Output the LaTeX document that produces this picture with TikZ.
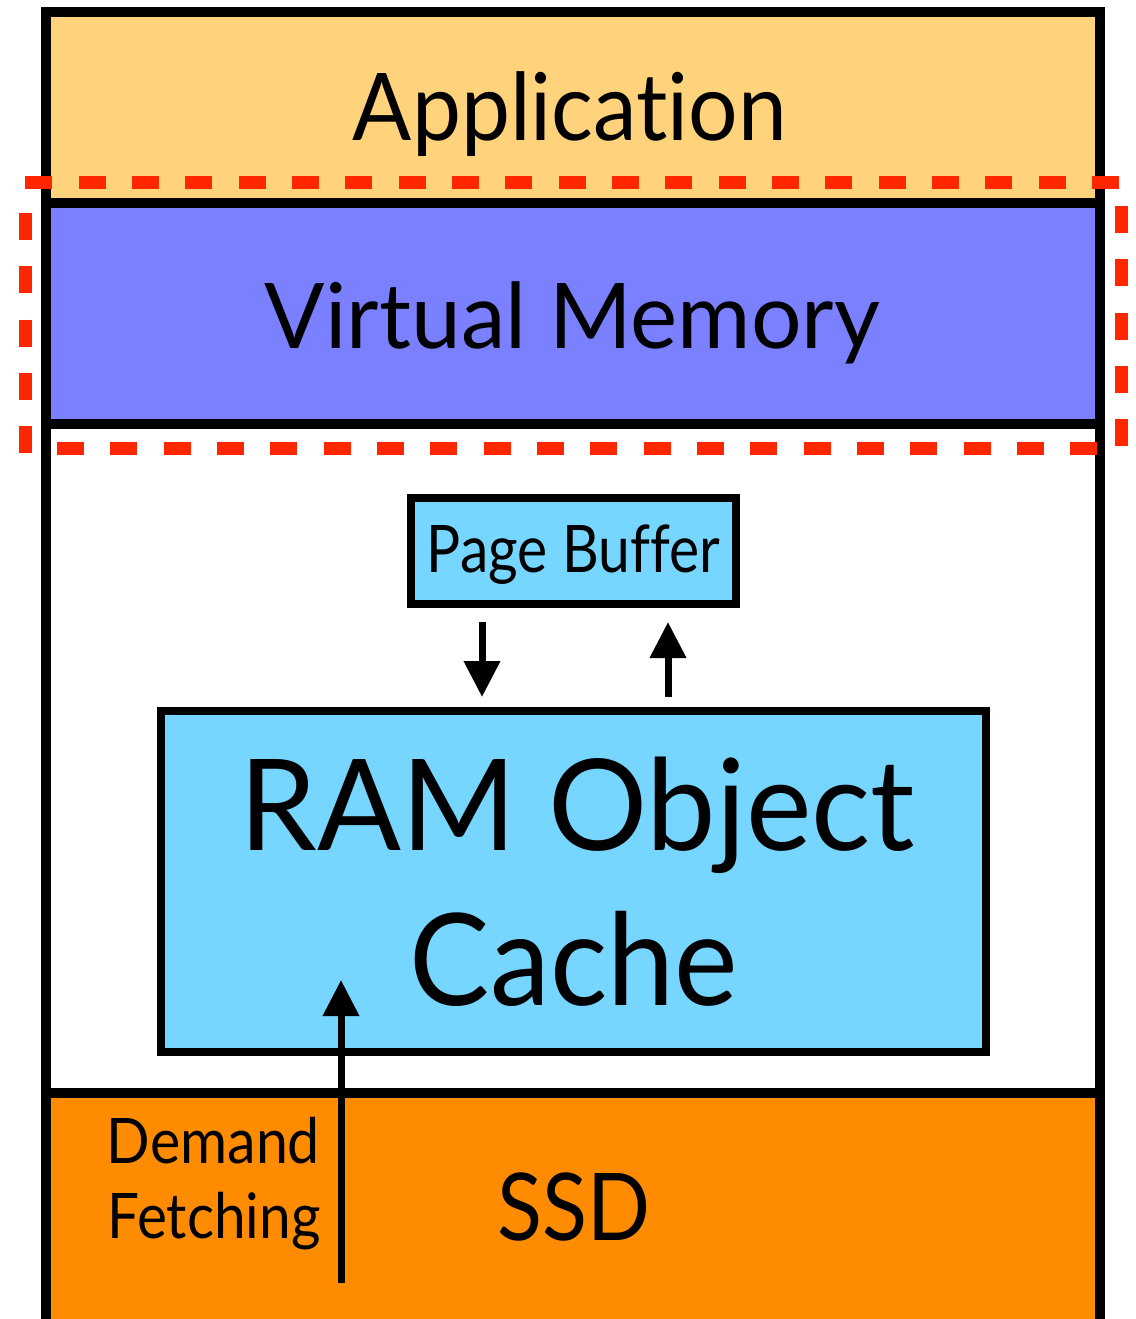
\documentclass[tikz,border=0pt]{standalone}
\usepackage{fontspec}
\setmainfont[Ligatures={CommonOff,ContextualOff}]{Lato}
\usetikzlibrary{arrows.meta}
\definecolor{appc}{RGB}{255,211,123}
\definecolor{vmc}{RGB}{122,128,255}
\definecolor{cyanc}{RGB}{118,214,255}
\definecolor{ssdc}{RGB}{255,140,0}
\definecolor{redc}{RGB}{255,38,0}
\newcommand{\fitw}[3]{{\fontsize{#2}{#2}\selectfont\resizebox{#1}{\height}{#3}}}
\begin{document}
\begin{tikzpicture}[x=1pt,y=-1pt,
  layer/.style={draw=black,line width=10pt,rectangle,inner sep=0pt,outer sep=0pt,minimum width=1054pt},
  box/.style={draw=black,line width=8pt,fill=cyanc,rectangle,inner sep=0pt,outer sep=0pt},
  lbl/.style={anchor=base,inner sep=0pt,outer sep=0pt,text=black},
  arr/.style={draw=black,line width=7pt,-{Triangle[width=35pt,length=36pt]}},
  reddash/.style={draw=redc,line width=13pt,dash pattern=on 27pt off 26.33pt}]
\useasboundingbox (0,0) rectangle (1135,1319);
\clip (0,0) rectangle (1135,1319);
\fill[white] (0,0) rectangle (1135,1319);
% layers
\node[layer,fill=appc,minimum height=191pt] (app) at (573,107.5) {};
\node[layer,fill=vmc,minimum height=221pt] (vm) at (573,313.5) {};
\node[layer,fill=white,minimum height=669pt] (mid) at (573,758.5) {};
\node[layer,fill=ssdc,minimum height=237pt] (ssd) at (573,1211.5) {};
% boxes
\node[box,minimum width=325pt,minimum height=106pt] (pb) at (573.5,551) {};
\node[box,minimum width=825pt,minimum height=341pt] (ram) at (573.5,881.5) {};
% labels
\node[lbl] (tapp) at (570,140) {\fitw{434pt}{93.5}{Application}};
\node[lbl] (tvm) at (572.5,348) {\fitw{615pt}{90.7}{Virtual Memory}};
\node[lbl] (tpb) at (573.5,572) {\fitw{293pt}{65.6}{Page Buffer}};
\node[lbl] (tram) at (577.5,850) {\fitw{675pt}{127}{RAM Object}};
\node[lbl] (tcache) at (574,1005) {\fitw{328pt}{128}{Cache}};
\node[lbl] (tdem) at (213.5,1163) {\fitw{213pt}{62.8}{Demand}};
\node[lbl] (tfet) at (214,1238) {\fitw{213pt}{62.8}{Fetching}};
\node[lbl] (tssd) at (573.5,1240) {\fitw{153pt}{93.5}{SSD}};
% arrows
\draw[arr] ([shift={(71,18)}]pb.south west) -- ([shift={(321,-14)}]ram.north west);
\draw[arr] ([shift={(507,-14)}]ram.north west) -- ([shift={(257,18)}]pb.south west);
\coordinate (df) at (341,1283);
\draw[arr] (df) -- ([shift={(180,-72)}]ram.south west);
% red dashed outline
\draw[reddash,dash phase=46pt] (18,182) -- (1119,182);
\draw[reddash] (25,213) -- (25,455);
\draw[reddash] (1121,206) -- (1121,446);
\draw[reddash] (57,448) -- (1098,448);
\end{tikzpicture}
\end{document}
